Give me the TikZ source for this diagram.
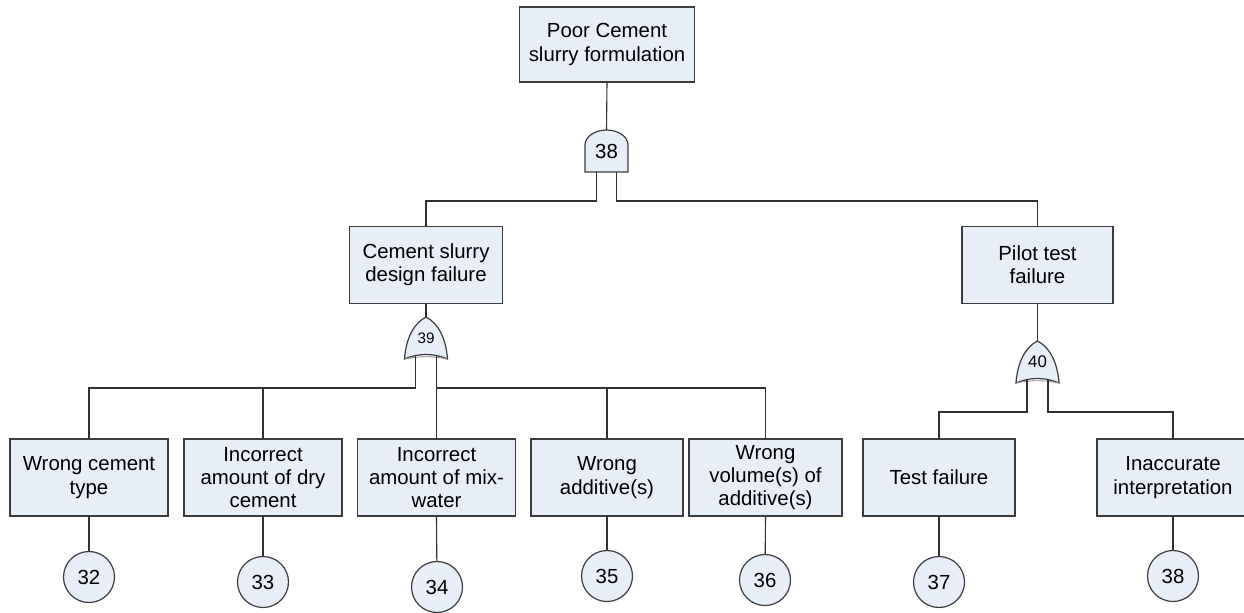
\documentclass[tikz,border=0pt]{standalone}
\usepackage{fontspec}
\setmainfont{Liberation Sans}
\usepackage{xcolor}
\usetikzlibrary{calc,positioning,shapes}
\definecolor{boxfill}{HTML}{E8EEF8}
\definecolor{boxline}{HTML}{3C3C3C}
\definecolor{wire}{HTML}{303030}
\tikzset{
  event/.style={
    rectangle,
    fill=boxfill,
    draw=boxline, line width=0.75pt,
    minimum width=79pt,
    minimum height=38.5pt,
    inner sep=0pt,
    align=center,
    font=\fontsize{10.2}{11.6}\selectfont},
  basic/.style={
    circle,
    fill=boxfill,
    draw=boxline, line width=0.6pt,
    minimum size=25.5pt,
    inner sep=0pt,
    font=\fontsize{10.2}{11.6}\selectfont},
  gateline/.style={fill=boxfill, draw=boxline, line width=0.6pt},
  gatenum/.style={inner sep=0pt},
  myline/.style={draw=wire, line width=0.55pt},
  andgate/.pic={
    \draw[gateline] (-21.5,-21) -- (-21.5,6)
      arc[start angle=180, end angle=0, x radius=21.5, y radius=15] -- (21.5,-21) -- cycle;
    \node[gatenum] (-n) at (0,0) {#1};
    \coordinate (-top) at (0,21);
    \coordinate (-l) at (-10,-21);
    \coordinate (-r) at (10,-21);
    \coordinate (-le) at (-10,-50);
    \coordinate (-re) at (10,-50);
  },
  orgate/.pic={
    \draw[gateline] (-21.5,-21) .. controls (-20,0) and (-12,15) .. (0,21)
      .. controls (12,15) and (20,0) .. (21.5,-21)
      .. controls (8,-15) and (-8,-15) .. cycle;
    \draw[draw=boxline!60, line width=0.4pt] (-21.5,-21) .. controls (-8,-18) and (8,-18) .. (21.5,-21);
    \node[gatenum] (-n) at (0,0) {#1};
    \coordinate (-top) at (0,21);
    \coordinate (-l) at (-10.5,-17.5);
    \coordinate (-r) at (10.5,-17.5);
    \coordinate (-le) at (-10.5,-50);
    \coordinate (-re) at (10.5,-50);
  },
}

\begin{document}
\begin{tikzpicture}[x=0.5pt, y=0.5pt]
  \useasboundingbox (0,0) rectangle (1244,-612);

  \node[event, minimum width=87.5pt, minimum height=37.5pt] (Top) at (607,-44.5) {Poor Cement\\slurry formulation};
  \pic (g38) at (606.5,-151) {andgate={\fontsize{10.2}{11}\selectfont 38}};

  \node[event, minimum width=76.5pt] (Design) at (426,-265) {Cement slurry\\design failure};
  \node[event, minimum width=75.5pt] (Pilot) at (1037.5,-265) {Pilot test\\failure};
  \pic (g39) at (426,-338) {orgate={\fontsize{7.6}{8}\selectfont 39}};
  \pic (g40) at (1037.5,-362) {orgate={\fontsize{8.4}{9}\selectfont 40}};

  \node[event] (Item1) at (89,-477.5) {Wrong cement\\type};
  \node[event] (Item2) at (263,-477.5) {Incorrect\\amount of dry\\cement};
  \node[event] (Item3) at (436.5,-477.5) {Incorrect\\amount of mix-\\water};
  \node[event, minimum width=76pt] (Item4) at (607,-477.5) {Wrong\\additive(s)};
  \node[event, minimum width=76.5pt] (Item5) at (765.5,-477.5) {Wrong\\volume(s) of\\additive(s)};
  \node[event, minimum width=76pt] (Item6) at (939,-477.5) {Test failure};
  \node[event, minimum width=76pt] (Item7) at (1173,-477.5) {Inaccurate\\interpretation};

  \node[basic] (Basic32) at (89,-577) {32};
  \node[basic] (Basic33) at (263,-582) {33};
  \node[basic] (Basic34) at (437,-587) {34};
  \node[basic] (Basic35) at (607,-576) {35};
  \node[basic] (Basic36) at (765,-580) {36};
  \node[basic] (Basic37) at (939,-582) {37};
  \node[basic] (Basic38) at (1173,-576) {38};

  \path[myline] (Top.south) -- (g38-top);
  \path[myline] (g38-l) -- (g38-le) -| (Design.north);
  \path[myline] (g38-r) -- (g38-re) -| (Pilot.north);
  \path[myline] (Design.south) -- (g39-top);
  \path[myline] (Pilot.south) -- (g40-top);

  \path[myline] (g39-l) -- (g39-le) -| (Item1.north);
  \path[myline] (g39-le) -| (Item2.north);
  \path[myline] (g39-r) -- (g39-r |- Item3.north);
  \path[myline] (g39-re) -| (Item4.north);
  \path[myline] (g39-re) -| (Item5.north);
  \path[myline] (g40-l) -- (g40-le) -| (Item6.north);
  \path[myline] (g40-r) -- (g40-re) -| (Item7.north);

  \foreach \i/\j in {1/32,2/33,3/34,4/35,5/36,6/37,7/38}
    \path[myline] (Item\i.south) -- (Basic\j);
\end{tikzpicture}
\end{document}
